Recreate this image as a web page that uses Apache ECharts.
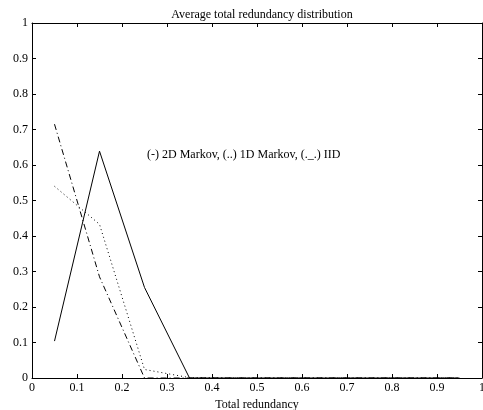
<!DOCTYPE html>
<html><head><meta charset="utf-8">
<script src="https://cdn.jsdelivr.net/npm/echarts@6/dist/echarts.min.js"></script>
<style>html,body{margin:0;padding:0;background:#fff}#c{width:483px;height:410px}</style>
</head><body><div id="c"></div>
<script>
const binCenters = [0.05, 0.15, 0.25, 0.35, 0.45, 0.55, 0.65, 0.75, 0.85, 0.95];
const markov2D = [0.104, 0.639, 0.255, 0, 0, 0, 0, 0, 0, 0];
const markov1D = [0.540, 0.433, 0.024, 0.001, 0, 0, 0, 0, 0, 0];
const iid = [0.715, 0.285, 0, 0, 0, 0, 0, 0, 0, 0];
const titleText = 'Average total redundancy distribution';
const xLabel = 'Total redundancy';
const noteText = '(-) 2D Markov, (..) 1D Markov, (._.) IID';

const font = 'Liberation Serif';
const fs = 12;
const pair = (ys) => binCenters.map((x, i) => [x, ys[i]]);
const chart = echarts.init(document.getElementById('c'), null, {renderer: 'canvas'});
const axisCommon = {
  type: 'value', min: 0, max: 1, interval: 0.1,
  axisLine: {show: true, onZero: false, lineStyle: {color: '#000', width: 1}},
  axisTick: {show: true, inside: true, length: 4, lineStyle: {color: '#000'}},
  splitLine: {show: false},
};
chart.setOption({
  animation: false,
  title: {text: titleText, left: 257, top: 4, textAlign: 'center',
    textStyle: {fontFamily: font, fontSize: fs, fontWeight: 'normal', color: '#000'}},
  grid: {left: 32, right: 1, top: 23, bottom: 32, containLabel: false, outerBoundsMode: 'none'},
  graphic: [{type: 'text', left: 147, top: 149,
    style: {text: noteText, fontFamily: font, fontSize: fs, fill: '#000'}}],
  xAxis: [
    Object.assign({}, axisCommon, {position: 'bottom', name: xLabel, nameLocation: 'middle', nameGap: 18,
      nameTextStyle: {fontFamily: font, fontSize: fs, color: '#000'},
      axisLabel: {fontFamily: font, fontSize: fs, color: '#000', margin: 4}}),
    Object.assign({}, axisCommon, {position: 'top', axisLabel: {show: false}})
  ],
  yAxis: [
    Object.assign({}, axisCommon, {position: 'left',
      axisLabel: {fontFamily: font, fontSize: fs, color: '#000', margin: 4}}),
    Object.assign({}, axisCommon, {position: 'right', axisLabel: {show: false}})
  ],
  series: [
    {type: 'line', data: pair(markov2D), symbol: 'none', lineStyle: {color: '#000', width: 1, type: 'solid'}},
    {type: 'line', data: pair(markov1D), symbol: 'none', lineStyle: {color: '#000', width: 1, type: [1, 3]}},
    {type: 'line', data: pair(iid), symbol: 'none', lineStyle: {color: '#000', width: 1, type: [6, 3, 1, 3]}}
  ]
});
</script></body></html>
